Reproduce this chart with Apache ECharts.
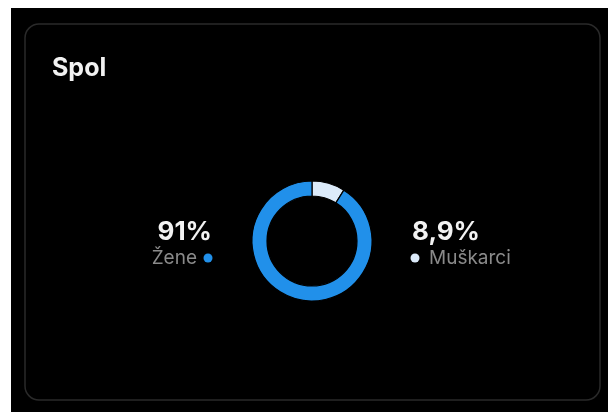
<!DOCTYPE html>
<html>
<head>
<meta charset="utf-8">
<script src="https://cdn.jsdelivr.net/npm/echarts@6/dist/echarts.min.js"></script>
<style>
  html, body { margin: 0; padding: 0; background: #fff; }
  #chart { width: 608px; height: 412px; }
</style>
</head>
<body>
<div id="chart"></div>
<script>
// podaci
var categories = ['Muškarci', 'Žene'];
var values = [8.9, 91];
var colors = ['#DCEBFA', '#2190EA'];
var title = 'Spol';

var chart = echarts.init(document.getElementById('chart'));

function pct(v) {
  return String(v).replace('.', ',') + '%';
}

var font = 'Inter, Roboto, "Noto Sans", sans-serif';

var option = {
  backgroundColor: 'transparent',
  animation: false,
  graphic: [
    // crna pozadina
    { type: 'rect', z: 0, shape: { x: 11, y: 8, width: 597, height: 404 }, style: { fill: '#000' } },
    // kartica
    { type: 'rect', z: 1, shape: { x: 25, y: 24, width: 575, height: 376, r: 14 },
      style: { fill: '#000', stroke: '#2a2a2a', lineWidth: 1.5 } },
    { type: 'text', z: 2, x: 52, y: 81,
      style: { text: title, fill: '#f2f2f2', font: 'bold 25px ' + font, textVerticalAlign: 'bottom' } },

    // lijevo: Žene
    { type: 'text', z: 2, x: 212, y: 245,
      style: { text: pct(values[1]), fill: '#f2f2f2', font: 'bold 26px ' + font, textAlign: 'right', textVerticalAlign: 'bottom' } },
    { type: 'text', z: 2, x: 197, y: 268,
      style: { text: categories[1], fill: '#8a8a8a', font: '19px ' + font, textAlign: 'right', textVerticalAlign: 'bottom' } },
    { type: 'circle', z: 2, shape: { cx: 208, cy: 258, r: 4.5 }, style: { fill: colors[1] } },

    // desno: Muškarci
    { type: 'text', z: 2, x: 412, y: 245,
      style: { text: pct(values[0]), fill: '#f2f2f2', font: 'bold 26px ' + font, textAlign: 'left', textVerticalAlign: 'bottom' } },
    { type: 'circle', z: 2, shape: { cx: 415, cy: 258, r: 4.5 }, style: { fill: colors[0] } },
    { type: 'text', z: 2, x: 429, y: 268,
      style: { text: categories[0], fill: '#8a8a8a', font: '19px ' + font, textAlign: 'left', textVerticalAlign: 'bottom' } }
  ],
  series: [
    {
      name: title,
      type: 'pie',
      z: 5,
      center: [312, 241],
      radius: [45, 60],
      startAngle: 90,
      clockwise: true,
      label: { show: false },
      labelLine: { show: false },
      itemStyle: { borderColor: '#000', borderWidth: 1.2 },
      emphasis: { disabled: true },
      data: categories.map(function (c, i) {
        return { name: c, value: values[i], itemStyle: { color: colors[i] } };
      })
    }
  ]
};

chart.setOption(option);
</script>
</body>
</html>
